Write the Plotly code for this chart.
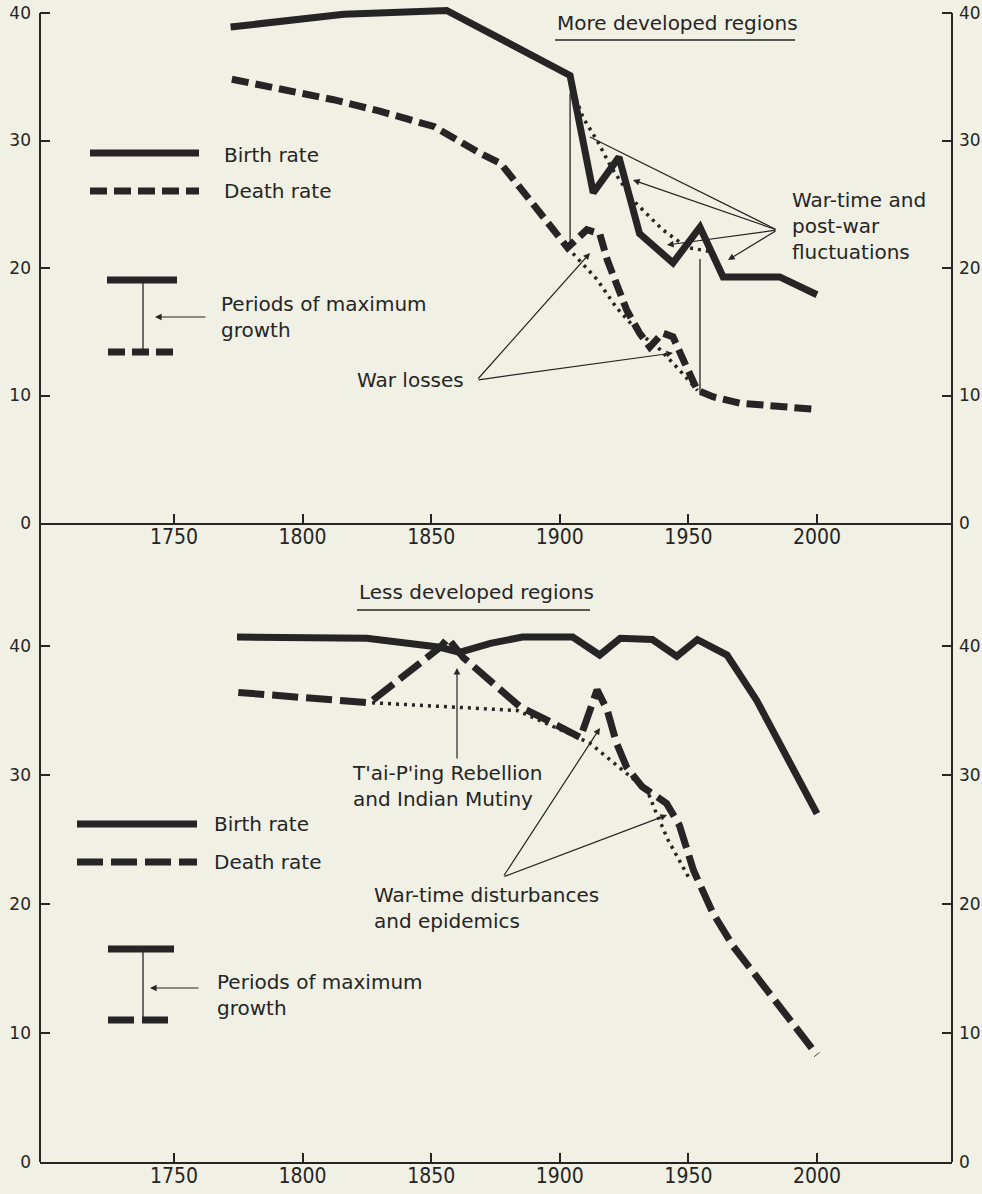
import plotly.graph_objects as go

# ---------------- DATA ----------------
# More developed regions (rates per 1000)
md_birth_years = [1772, 1816, 1856, 1904, 1913, 1923, 1931, 1944, 1954.5, 1963.5, 1985.5, 2000]
md_birth_rate = [38.9, 39.9, 40.2, 35.1, 25.9, 28.7, 22.7, 20.4, 23.2, 19.3, 19.3, 17.9]
md_birth_trend_years = [1904, 1905, 1909, 1914.5, 1920, 1928.5, 1940, 1949.5, 1958.5]
md_birth_trend = [35.1, 34.0, 31.8, 30.0, 27.9, 25.3, 23.0, 21.6, 21.3]
md_death_years = [1772.5, 1812, 1830, 1851, 1869, 1877, 1888.5, 1903, 1910.5, 1915.5, 1918.5,
                  1926, 1931, 1935, 1940, 1944, 1948, 1953.5, 1959.5, 1970, 2000]
md_death_rate = [34.8, 33.2, 32.3, 31.1, 29.0, 28.2, 25.3, 21.6, 23.0, 22.7, 20.6,
                 16.7, 14.9, 13.8, 14.9, 14.6, 12.8, 10.4, 9.9, 9.4, 8.9]
md_death_trend_years = [1903, 1914.5, 1922, 1931, 1939, 1946.5, 1953.5]
md_death_trend = [21.6, 19.1, 16.9, 14.9, 13.6, 12.0, 10.4]
md_maxgrowth_years = [1904, 1954.5]
md_maxgrowth_birth = [33.7, 20.7]
md_maxgrowth_death = [21.6, 10.2]

# Less developed regions
ld_birth_years = [1774.5, 1825, 1853.5, 1861, 1873, 1885.5, 1905, 1915.5, 1923.5, 1936,
                  1945.5, 1953.5, 1965, 1976.5, 2000]
ld_birth_rate = [40.7, 40.6, 39.9, 39.5, 40.2, 40.7, 40.7, 39.3, 40.6, 40.5,
                 39.2, 40.5, 39.3, 35.8, 27.0]
ld_death_years = [1775, 1826, 1853.5, 1856.5, 1862.5, 1871.5, 1884.5, 1897.5, 1908, 1914.5,
                  1918.5, 1922, 1926, 1932, 1941.5, 1946.5, 1952, 1959.5, 1967.5, 2000]
ld_death_rate = [36.4, 35.6, 39.9, 40.6, 39.1, 37.6, 35.3, 34.0, 32.9, 36.6,
                 35.0, 32.5, 30.6, 29.1, 27.8, 26.1, 22.6, 19.3, 16.7, 8.3]
ld_death_trend_years = [1827, 1883.5, 1911.5, 1924.5, 1934, 1937, 1942, 1950]
ld_death_trend = [35.6, 35.0, 32.5, 30.4, 28.8, 27.3, 25.0, 22.1]

x_ticks = [1750, 1800, 1850, 1900, 1950, 2000]
y_ticks = [0, 10, 20, 30, 40]

# ---------------- STYLE ----------------
INK = "#252525"
BG = "#f1f0e4"
FONT = "'DejaVu Sans', sans-serif"
XFONT = "'Liberation Sans Narrow', 'DejaVu Sans Condensed', 'DejaVu Sans', sans-serif"
W, H = 982, 1194
L, R, T, B = 40, 30, 0, 32
PW, PH = W - L - R, H - T - B

def px(x):
    return (x - L) / PW

def py(y):
    return (PH + T - y) / PH

DASH_TOP = "17px,7px"
DASH_BOT = "26px,8px"
DOT = "3px,5px"

fig = go.Figure()

def line(x, y, xa, ya, width=7, dash="solid"):
    fig.add_trace(go.Scatter(x=x, y=y, xaxis=xa, yaxis=ya, mode="lines",
                             line=dict(color=INK, width=width, dash=dash),
                             hoverinfo="skip", showlegend=False))

# top panel (dotted trend lines use the right-hand axis, same scale)
line(md_birth_trend_years, md_birth_trend, "x", "y3", 3.5, DOT)
line(md_death_trend_years, md_death_trend, "x", "y3", 3.5, DOT)
line(md_birth_years, md_birth_rate, "x", "y", 7)
line(md_death_years, md_death_rate, "x", "y", 7, DASH_TOP)
for yr, b, d in zip(md_maxgrowth_years, md_maxgrowth_birth, md_maxgrowth_death):
    line([yr, yr], [b, d], "x", "y", 1.3)

# bottom panel
line(ld_death_trend_years, ld_death_trend, "x2", "y4", 3.5, DOT)
line(ld_birth_years, ld_birth_rate, "x2", "y2", 7)
line(ld_death_years, ld_death_rate, "x2", "y2", 7, DASH_BOT)

# ---------------- AXES ----------------
xr = [1750 - 134 / 2.572, 1750 - 134 / 2.572 + PW / 2.572]
xcommon = dict(range=xr, tickvals=x_ticks, ticks="inside", ticklen=9, tickwidth=2,
               tickcolor=INK, showline=True, linewidth=2, linecolor=INK, showgrid=False,
               zeroline=False, tickfont=dict(family=XFONT, size=21, color=INK),
               ticklabelstandoff=-6, fixedrange=True, automargin=False)
ycommon = dict(tickvals=y_ticks, ticks="inside", ticklen=10, tickwidth=2, tickcolor=INK,
               showline=False, showgrid=False, zeroline=False,
               tickfont=dict(family=FONT, size=17, color=INK), ticklabelstandoff=8,
               fixedrange=True, automargin=False)
yright = dict(ycommon, side="right", ticklabelstandoff=6)

top_dom = [py(523), 1]
bot_dom = [0, py(560)]
top_range = [0, 523 / 12.75]
bot_range = [0, (1162 - 560) / 12.9]

fig.update_layout(
    xaxis=dict(xcommon, anchor="y", domain=[0, 1]),
    xaxis2=dict(xcommon, anchor="y2", domain=[0, 1]),
    yaxis=dict(ycommon, domain=top_dom, range=top_range, anchor="x"),
    yaxis2=dict(ycommon, domain=bot_dom, range=bot_range, anchor="x2"),
    yaxis3=dict(yright, overlaying="y", range=top_range, anchor="x"),
    yaxis4=dict(yright, overlaying="y2", range=bot_range, anchor="x2"),
)

# ---------------- SHAPES ----------------
shapes = []

def seg(x0, y0, x1, y1, width=1.5, dash="solid"):
    shapes.append(dict(type="line", xref="paper", yref="paper",
                       x0=px(x0), y0=py(y0), x1=px(x1), y1=py(y1),
                       line=dict(color=INK, width=width, dash=dash), layer="above"))

# frame verticals
seg(40, 13, 40, 1162, 2)
seg(952, 13, 952, 1162, 2)
# title underlines
seg(555, 40, 795, 40, 1.6)
seg(357, 610, 590, 610, 1.6)
# top key
seg(90, 153, 199, 153, 7)
seg(90, 191, 199, 191, 7, DASH_TOP)
seg(107, 280, 177, 280, 7)
seg(108, 352, 177, 352, 7, DASH_TOP)
seg(143, 280, 143, 352, 1.3)
# bottom key
seg(77, 824, 197, 824, 7)
seg(77, 862, 197, 862, 7, DASH_BOT)
seg(108, 949, 174, 949, 7)
seg(108, 1020, 174, 1020, 7, DASH_BOT)
seg(143, 949, 143, 1020, 1.3)

fig.update_layout(shapes=shapes)

# ---------------- TEXT & ARROWS ----------------
ann = []

def text(x, y, s, size=20, xanchor="left"):
    ann.append(dict(x=px(x), y=py(y), xref="paper", yref="paper", text=s, showarrow=False,
                    xanchor=xanchor, yanchor="middle", align="left",
                    font=dict(family=FONT, size=size, color=INK)))

def arrow(tail, tip, head=2):
    ann.append(dict(x=px(tip[0]), y=py(tip[1]), xref="paper", yref="paper", text="",
                    showarrow=True, arrowhead=head, arrowsize=1.1, arrowwidth=1.2,
                    arrowcolor=INK, ax=tail[0] - tip[0], ay=tail[1] - tip[1],
                    standoff=0, startstandoff=0))

text(555, 23, "More developed regions", 20)
text(790, 226, "War-time and<br>post-war<br>fluctuations", 20)
text(466, 380, "War losses", 20, "right")
text(222, 155, "Birth rate", 20)
text(222, 191, "Death rate", 20)
text(219, 317, "Periods of maximum<br>growth", 20)

o = (777, 230)
arrow(o, (590, 137), 0)
arrow(o, (633, 180))
arrow(o, (667, 245))
arrow(o, (728, 260))
w = (477, 380)
arrow(w, (590, 253))
arrow(w, (673, 353))
arrow((207, 317), (155, 317))

text(357, 592, "Less developed regions", 20)
text(350, 786, "T'ai-P'ing Rebellion<br>and Indian Mutiny", 20)
text(212, 824, "Birth rate", 20)
text(212, 862, "Death rate", 20)
text(372, 908, "War-time disturbances<br>and epidemics", 20)
text(215, 995, "Periods of maximum<br>growth", 20)

arrow((457, 760), (457, 668))
d = (503, 877)
arrow(d, (600, 728))
arrow(d, (667, 815))
arrow((200, 988), (150, 988))

fig.update_layout(annotations=ann)

fig.update_layout(width=W, height=H, margin=dict(l=L, r=R, t=T, b=B),
                  paper_bgcolor=BG, plot_bgcolor=BG, showlegend=False,
                  font=dict(family=FONT, color=INK))

fig.write_html("out.html", config={"displayModeBar": False},
               post_script="document.body.style.margin='0';document.body.style.overflow='hidden';")
